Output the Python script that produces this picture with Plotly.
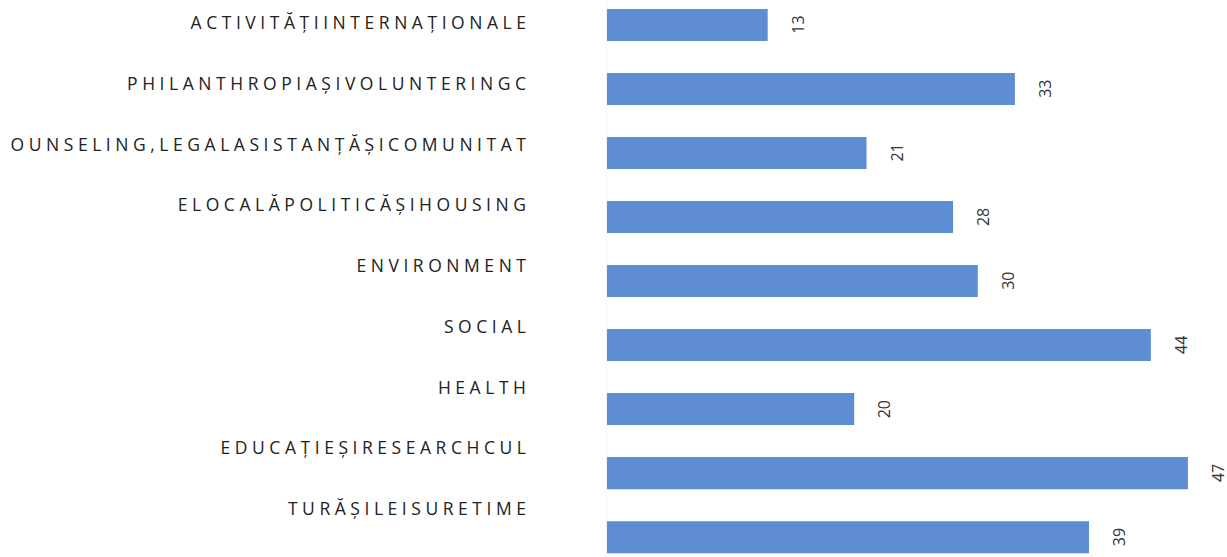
import plotly.graph_objects as go

categories = [
    'ACTIVITĂȚIINTERNAȚIONALE',
    'PHILANTHROPIAȘIVOLUNTERINGC',
    'OUNSELING,LEGALASISTANȚĂȘICOMUNITAT',
    'ELOCALĂPOLITICĂȘIHOUSING',
    'ENVIRONMENT',
    'SOCIAL',
    'HEALTH',
    'EDUCAȚIEȘIRESEARCHCUL',
    'TURĂȘILEISURETIME',
]
values = [13, 33, 21, 28, 30, 44, 20, 47, 39]

# spaced out like the scanned labels
labels = [' '.join(c) for c in categories]

fig = go.Figure()

fig.add_trace(go.Bar(
    x=values, y=categories, orientation='h',
    width=0.5,
    marker=dict(color='#5E8DD3', line=dict(width=0)),
    hoverinfo='skip',
))

# invisible trace that carries the category labels on a second axis
fig.add_trace(go.Scatter(
    x=values, y=labels, yaxis='y2', mode='markers',
    marker=dict(opacity=0), hoverinfo='skip', showlegend=False,
))

for v, c in zip(values, categories):
    fig.add_annotation(
        x=v, y=c, text=str(v), showarrow=False, textangle=-90,
        xshift=30, font=dict(size=16, color='#333333', family='Open Sans'),
    )

fig.update_layout(
    width=1227, height=557,
    margin=dict(l=607, r=2, t=0, b=0),
    paper_bgcolor='white', plot_bgcolor='white',
    showlegend=False,
    xaxis=dict(range=[0, 50], visible=False),
    yaxis=dict(range=[8.31, -0.39], showticklabels=False, showgrid=False,
               zeroline=False, showline=True, linecolor='#f2f2f2', ticks=''),
    yaxis2=dict(overlaying='y', side='left', range=[8.79, -0.38],
                showgrid=False, zeroline=False, ticks='', automargin=False,
                ticklabelstandoff=80,
                tickfont=dict(size=17.5, color='#222222', family='Open Sans')),
)

# drop the default page margin so the figure fills the window
fig.write_html('out.html', config={'displayModeBar': False},
               post_script="document.body.style.margin='0';document.body.style.overflow='hidden';")
